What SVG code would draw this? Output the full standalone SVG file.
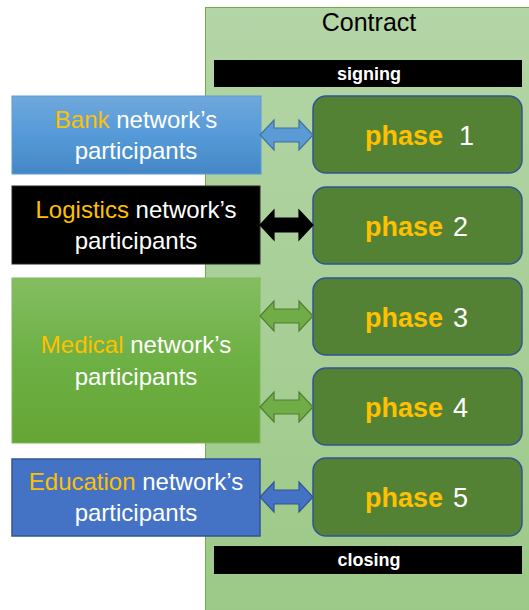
<svg xmlns="http://www.w3.org/2000/svg" width="529" height="610" viewBox="0 0 529 610">
<defs>
<linearGradient id="gCont" x1="0" y1="0" x2="0" y2="1"><stop offset="0" stop-color="#b4d5a7"/><stop offset="1" stop-color="#9cc987"/></linearGradient>
<linearGradient id="gBank" x1="0" y1="0" x2="0" y2="1"><stop offset="0" stop-color="#70a8dc"/><stop offset="0.5" stop-color="#559ad8"/><stop offset="1" stop-color="#4587c6"/></linearGradient>
<linearGradient id="gMed" x1="0" y1="0" x2="0" y2="1"><stop offset="0" stop-color="#84bd62"/><stop offset="0.5" stop-color="#6db043"/><stop offset="1" stop-color="#65a536"/></linearGradient>
<style>
text{font-family:"Liberation Sans",Arial,sans-serif}
.lbl{font-size:24px;fill:#ffffff;text-anchor:middle}
.hl{fill:#ffc000}
.bar{fill:#000000}
.bart{font-size:18px;font-weight:bold;fill:#ffffff;text-anchor:middle}
.ph{fill:#548235;stroke:#2f5597;stroke-width:1.5}
.pw{font-size:27px;font-weight:bold;fill:#ffc000;text-anchor:end}
.pn{font-size:27px;fill:#ffffff}
</style>
</defs>
<rect x="0" y="0" width="529" height="610" fill="#ffffff"/>
<g id="contract">
<rect x="205.5" y="7.5" width="330" height="610" fill="url(#gCont)" stroke="#70ad47" stroke-width="1"/>
<text x="369" y="31" font-size="25" fill="#000000" text-anchor="middle">Contract</text>
</g>
<g id="signing">
<rect class="bar" x="214" y="60" width="308" height="27"/>
<text class="bart" x="369" y="80">signing</text>
</g>
<g id="closing">
<rect class="bar" x="214" y="546" width="308" height="28"/>
<text class="bart" x="369" y="566">closing</text>
</g>
<g id="bank">
<rect x="12" y="96" width="249" height="78" fill="url(#gBank)" stroke="#5b9bd5" stroke-width="1"/>
<text class="lbl" x="136" y="128"><tspan class="hl">Bank</tspan> network’s</text>
<text class="lbl" x="136" y="159">participants</text>
</g>
<g id="logistics">
<rect x="12" y="186" width="248" height="78" fill="#000000" stroke="#262626" stroke-width="1"/>
<text class="lbl" x="136" y="218"><tspan class="hl">Logistics</tspan> network’s</text>
<text class="lbl" x="136" y="249">participants</text>
</g>
<g id="medical">
<rect x="12" y="278" width="248" height="165" fill="url(#gMed)" stroke="#7cb85a" stroke-width="1"/>
<text class="lbl" x="136" y="353"><tspan class="hl">Medical</tspan> network’s</text>
<text class="lbl" x="136" y="385">participants</text>
</g>
<g id="education">
<rect x="12" y="459" width="248" height="77" fill="#4472c4" stroke="#2f5597" stroke-width="1.5"/>
<text class="lbl" x="136" y="490"><tspan class="hl">Education</tspan> network’s</text>
<text class="lbl" x="136" y="521">participants</text>
</g>
<g id="phase1">
<rect class="ph" x="313" y="96" width="209" height="77" rx="13"/>
<text class="pw" x="443" y="145">phase</text><text class="pn" x="459" y="145">1</text>
</g>
<g id="phase2">
<rect class="ph" x="313" y="187" width="209" height="77" rx="13"/>
<text class="pw" x="443" y="236">phase</text><text class="pn" x="453" y="236">2</text>
</g>
<g id="phase3">
<rect class="ph" x="313" y="278" width="209" height="77" rx="13"/>
<text class="pw" x="443" y="327">phase</text><text class="pn" x="453" y="327">3</text>
</g>
<g id="phase4">
<rect class="ph" x="313" y="368" width="209" height="77" rx="13"/>
<text class="pw" x="443" y="417">phase</text><text class="pn" x="453" y="417">4</text>
</g>
<g id="phase5">
<rect class="ph" x="313" y="458" width="209" height="78" rx="13"/>
<text class="pw" x="443" y="507">phase</text><text class="pn" x="453" y="507">5</text>
</g>
<g id="connectors" stroke-width="1.2" stroke-linejoin="miter">
<path d="M260,135 L274,120 L274,128 L299,128 L299,120 L313,135 L299,150 L299,142 L274,142 L274,150 Z" fill="#5b9bd5" stroke="#41719c"/>
<path d="M260,225 L274,210 L274,218 L299,218 L299,210 L313,225 L299,240 L299,232 L274,232 L274,240 Z" fill="#000000" stroke="#000000"/>
<path d="M260,316 L274,301 L274,309 L299,309 L299,301 L313,316 L299,331 L299,323 L274,323 L274,331 Z" fill="#70ad47" stroke="#507e32"/>
<path d="M260,407 L274,392 L274,400 L299,400 L299,392 L313,407 L299,422 L299,414 L274,414 L274,422 Z" fill="#70ad47" stroke="#507e32"/>
<path d="M260,497 L274,482 L274,490 L299,490 L299,482 L313,497 L299,512 L299,504 L274,504 L274,512 Z" fill="#4472c4" stroke="#2f5597"/>
</g>
</svg>
